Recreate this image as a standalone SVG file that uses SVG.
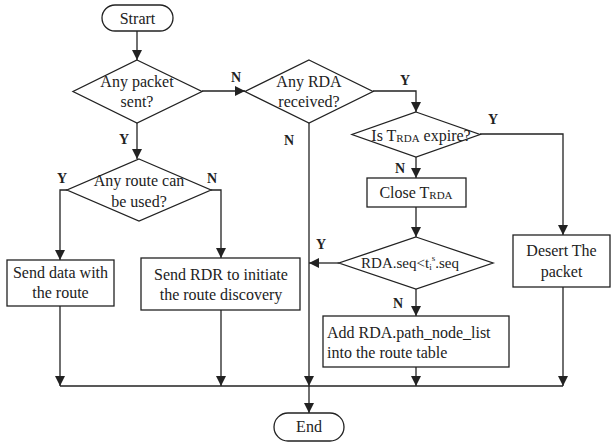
<svg xmlns="http://www.w3.org/2000/svg" width="611" height="446" viewBox="0 0 611 446">
  <style>
    .shape { fill: #fff; stroke: #222; stroke-width: 1.3; }
    .line { fill: none; stroke: #222; stroke-width: 1.3; }
    .t { font-family: "Liberation Serif", Tinos, "Times New Roman", "DejaVu Serif", serif; font-size: 16px; fill: #222; text-anchor: middle; }
    .lbl { font-family: "Liberation Serif", Tinos, "Times New Roman", "DejaVu Serif", serif; font-size: 14px; font-weight: bold; fill: #222; text-anchor: middle; }
    .left { text-anchor: start; }
    .sub { font-size: 11px; }
  </style>
  <defs>
    <marker id="arrow" viewBox="0 0 10 10" refX="10" refY="5" markerWidth="10" markerHeight="10" markerUnits="userSpaceOnUse" orient="auto">
      <path d="M0,0 L10,5 L0,10 Z" fill="#222"/>
    </marker>
  </defs>
  <rect width="611" height="446" fill="#fff"/>

  <!-- connectors -->
  <g id="connectors">
    <path class="line" d="M137,31 V60" marker-end="url(#arrow)"/>
    <path class="line" d="M202,91 H245" marker-end="url(#arrow)"/>
    <path class="line" d="M137,123 V159" marker-end="url(#arrow)"/>
    <path class="line" d="M67,190 H60 V260" marker-end="url(#arrow)"/>
    <path class="line" d="M211,190 H221 V258" marker-end="url(#arrow)"/>
    <path class="line" d="M60,306 V386" marker-end="url(#arrow)"/>
    <path class="line" d="M221,310 V386" marker-end="url(#arrow)"/>
    <path class="line" d="M309,123 V386" marker-end="url(#arrow)"/>
    <path class="line" d="M373,91 H416 V112" marker-end="url(#arrow)"/>
    <path class="line" d="M480,134 H563 V235" marker-end="url(#arrow)"/>
    <path class="line" d="M416,157 V178" marker-end="url(#arrow)"/>
    <path class="line" d="M416,207 V237" marker-end="url(#arrow)"/>
    <path class="line" d="M339,263 H309" marker-end="url(#arrow)"/>
    <path class="line" d="M416,289 V316" marker-end="url(#arrow)"/>
    <path class="line" d="M416,367 V386" marker-end="url(#arrow)"/>
    <path class="line" d="M563,287 V386" marker-end="url(#arrow)"/>
    <path class="line" d="M60,386 H563"/>
    <path class="line" d="M309,386 V413" marker-end="url(#arrow)"/>
    <text class="lbl" x="236" y="82">N</text>
    <text class="lbl" x="124" y="144">Y</text>
    <text class="lbl" x="62" y="183">Y</text>
    <text class="lbl" x="212" y="183">N</text>
    <text class="lbl" x="289" y="145">N</text>
    <text class="lbl" x="405" y="85">Y</text>
    <text class="lbl" x="493" y="124">Y</text>
    <text class="lbl" x="400" y="173">N</text>
    <text class="lbl" x="321" y="249">Y</text>
    <text class="lbl" x="398" y="308">N</text>
  </g>

  <g id="start">
    <rect class="shape" x="102" y="5" width="71" height="26" rx="13"/>
    <text class="t" x="137.5" y="24">Strart</text>
  </g>

  <g id="any-packet">
    <polygon class="shape" points="137,60 202,91.5 137,123 73,91.5"/>
    <text class="t" x="137" y="87">Any packet</text>
    <text class="t" x="137" y="107">sent?</text>
  </g>

  <g id="any-rda">
    <polygon class="shape" points="309,60 373,91.5 309,123 245,91.5"/>
    <text class="t" x="309" y="87">Any RDA</text>
    <text class="t" x="309" y="107">received?</text>
  </g>

  <g id="any-route">
    <polygon class="shape" points="139,159 211,190 139,221 67,190"/>
    <text class="t" x="139" y="186">Any route can</text>
    <text class="t" x="139" y="207">be used?</text>
  </g>

  <g id="send-data">
    <rect class="shape" x="7" y="260" width="107" height="46"/>
    <text class="t" x="60.5" y="278">Send data with</text>
    <text class="t" x="60.5" y="298">the route</text>
  </g>

  <g id="send-rdr">
    <rect class="shape" x="141" y="258" width="159" height="52"/>
    <text class="t" x="221" y="280">Send RDR to initiate</text>
    <text class="t" x="221" y="300">the route discovery</text>
  </g>

  <g id="trda-expire">
    <polygon class="shape" points="416,112 480,134.5 416,157 352,134.5"/>
    <text class="t" x="421" y="141">Is T<tspan class="sub" dy="1">RDA</tspan><tspan dy="-1"> expire?</tspan></text>
  </g>

  <g id="close-trda">
    <rect class="shape" x="367" y="178" width="99" height="29"/>
    <text class="t" x="416" y="198">Close T<tspan class="sub" dy="1">RDA</tspan></text>
  </g>

  <g id="seq-check">
    <polygon class="shape" points="416,237 493,263 416,289 339,263"/>
    <text class="t" x="410" y="268" style="font-size:15px">RDA.seq&lt;t<tspan class="sub" style="font-size:9px" dy="2">i</tspan><tspan class="sub" style="font-size:9px" dy="-9">s</tspan><tspan dy="7">.seq</tspan></text>
  </g>

  <g id="add-path">
    <rect class="shape" x="323" y="316" width="186" height="51"/>
    <text class="t left" x="327" y="338">Add RDA.path_node_list</text>
    <text class="t left" x="327" y="358">into the route table</text>
  </g>

  <g id="desert">
    <rect class="shape" x="513" y="235" width="97" height="52"/>
    <text class="t" x="561.5" y="256">Desert The</text>
    <text class="t" x="561.5" y="277">packet</text>
  </g>

  <g id="end">
    <rect class="shape" x="274" y="413" width="70" height="28" rx="14"/>
    <text class="t" x="309" y="432">End</text>
  </g>
</svg>
